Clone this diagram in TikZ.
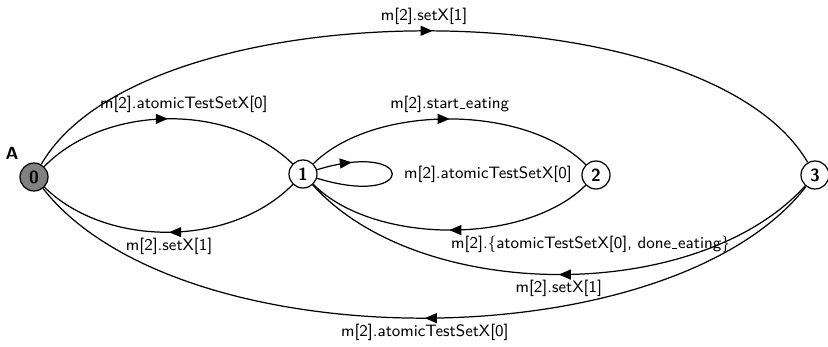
\documentclass[tikz,border=0pt]{standalone}
\usepackage{tikz}
\usetikzlibrary{arrows.meta, decorations.markings}
\definecolor{initgray}{HTML}{808080}
\newcommand{\ulow}{\leavevmode\kern.06em\vbox{\hrule width.3em}\kern.06em}

\tikzset{
  stnode/.style={circle, draw, line width=0.7pt, fill=white, minimum size=0.56cm, inner sep=0pt, font=\sffamily\bfseries},
  trans/.style={line width=0.7pt, postaction={decorate},
    decoration={markings, mark=at position #1 with {\arrow{Triangle[length=2.4mm,width=2mm]}}}},
  trans/.default=0.5,
  lbl/.style={font=\sffamily\fontsize{9.4}{11}\selectfont, inner sep=3pt},
}

\begin{document}
\begin{tikzpicture}[>=Stealth, x=0.02cm, y=0.02cm]
    \useasboundingbox (0,0) rectangle (828,346);
    % states
    \node[stnode, fill=initgray] (s0) at (34,169) {0};
    \node[stnode] (s1) at (303,172) {1};
    \node[stnode] (s2) at (596,171) {2};
    \node[stnode] (s3) at (815,171) {3};
    \node[font=\sffamily\bfseries] (init) at (12,193) {A};
    % transitions
    \draw[trans=0.51] (s0) to[bend left=60, looseness=0.68] node[lbl, above] (l03) {m[2].setX[1]} (s3);
    \draw[trans] (s0) to[bend left=45, looseness=0.9] node[lbl, above, xshift=0.32cm] (l01) {m[2].atomicTestSetX[0]} (s1);
    \draw[trans] (s1) to[bend left=45, looseness=0.9] node[lbl, below] (l10) {m[2].setX[1]} (s0);
    \draw[trans=0.22] (s1) to[out=17, in=-17, distance=2.1cm] node[lbl, right, xshift=0.12cm] (l11) {m[2].atomicTestSetX[0]} (s1);
    \draw[trans] (s1) to[bend left=45, looseness=0.8] node[lbl, above] (l12) {m[2].start\ulow eating} (s2);
    \draw[trans] (s2) to[bend left=45, looseness=0.8] node[lbl, anchor=north west, xshift=-0.08cm] (l21) {m[2].\{atomicTestSetX[0], done\ulow eating\}} (s1);
    \draw[trans] (s3) to[bend left=48, looseness=0.83] node[lbl, below] (l31) {m[2].setX[1]} (s1);
    \draw[trans] (s3) to[bend left=52, looseness=0.74] node[lbl, below] (l30) {m[2].atomicTestSetX[0]} (s0);
\end{tikzpicture}
\end{document}
